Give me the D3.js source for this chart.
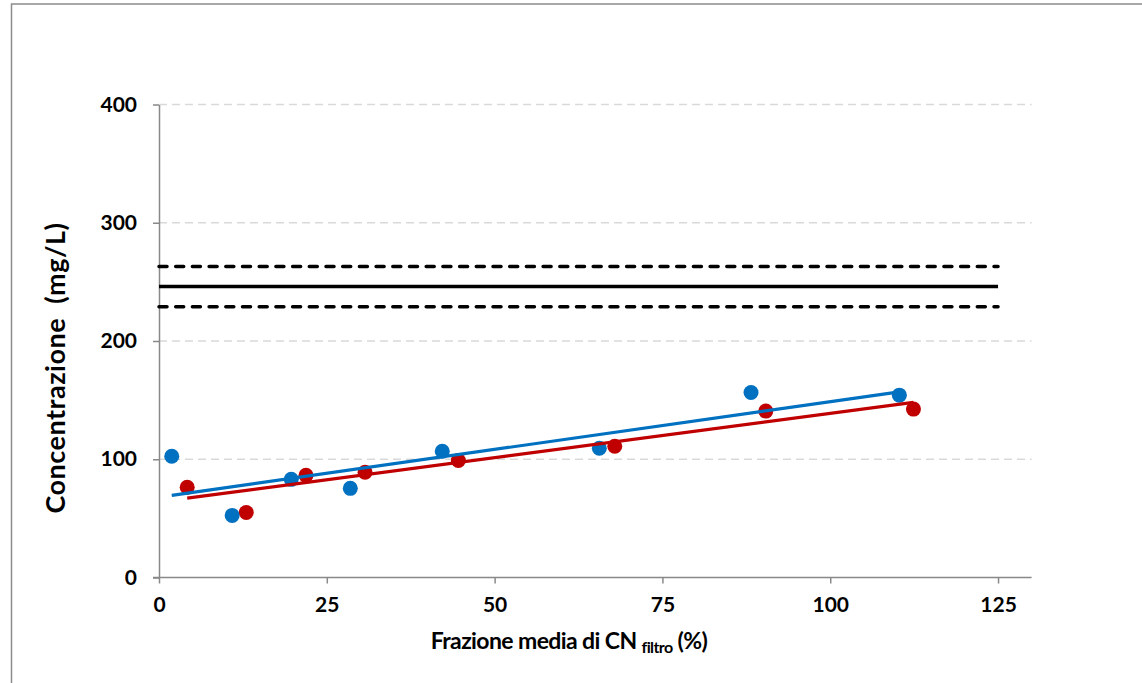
<!DOCTYPE html>
<html>
<head>
<meta charset="utf-8">
<script src="https://cdn.jsdelivr.net/npm/d3@7"></script>
<style>
  body { margin: 0; background: #fff; }
  svg { display: block; font-family: Lato, "Open Sans", sans-serif; }
</style>
</head>
<body>
<div id="chart"></div>
<script>
// Series
const blueX = [1.9, 10.9, 19.7, 28.5, 42.2, 65.6, 88.2, 110.3];
const blueY = [102.5, 52.5, 83, 75.4, 106.8, 109.3, 156.5, 154.2];
const redX = [4.2, 13, 21.9, 30.7, 44.6, 67.9, 90.4, 112.4];
const redY = [76.3, 55, 86.4, 89, 99, 111, 140.7, 142.4];

// reference level (solid) and its band (dashed)
const refRange = [0, 125];
const refLevel = 246;
const refBand = [229, 263];

const xTicks = [0, 25, 50, 75, 100, 125];
const yTicks = [0, 100, 200, 300, 400];

const W = 1142, H = 683;
const blue = "#0070C0", red = "#C00000", axisCol = "#898989";

const svg = d3.select("#chart").append("svg")
    .attr("width", W)
    .attr("height", H);

// outer frame (only left and top visible in the picture)
svg.append("rect")
    .attr("x", 11.5).attr("y", 4)
    .attr("width", W + 20).attr("height", H + 20)
    .attr("fill", "none")
    .attr("stroke", "#8c8c8c")
    .attr("stroke-width", 1.5);

const x = d3.scaleLinear().domain([0, 130]).range([159, 1031.6]);
const y = d3.scaleLinear().domain([0, 400]).range([577.5, 104.5]);

// gridlines
svg.append("g")
    .selectAll("line")
    .data(yTicks.filter(d => d > 0))
    .join("line")
    .attr("x1", x(0)).attr("x2", x(130))
    .attr("y1", d => y(d)).attr("y2", d => y(d))
    .attr("stroke", "#d9d9d9")
    .attr("stroke-width", 1.3)
    .attr("stroke-dasharray", "8,5");

// Y axis
const yAxis = svg.append("g")
    .attr("transform", `translate(${x(0)},0)`)
    .call(d3.axisLeft(y).tickValues(yTicks).tickSize(6).tickPadding(16).tickSizeOuter(0));
yAxis.select(".domain").attr("stroke", axisCol).attr("stroke-width", 1.5);
yAxis.selectAll(".tick line").attr("stroke", axisCol).attr("stroke-width", 1.5);
yAxis.selectAll(".tick text")
    .attr("font-family", "Lato, sans-serif")
    .attr("font-size", 21)
    .attr("font-weight", "bold")
    .attr("fill", "#000");

// X axis
const xAxis = svg.append("g")
    .attr("transform", `translate(0,${y(0)})`)
    .call(d3.axisBottom(x).tickValues(xTicks).tickSize(6).tickPadding(14).tickSizeOuter(0));
xAxis.select(".domain")
    .attr("d", `M${x(0) - 6},0H${x(130)}`)
    .attr("stroke", axisCol).attr("stroke-width", 1.5);
xAxis.selectAll(".tick line").attr("stroke", axisCol).attr("stroke-width", 1.5);
xAxis.selectAll(".tick text")
    .attr("font-family", "Lato, sans-serif")
    .attr("font-size", 21)
    .attr("font-weight", "bold")
    .attr("fill", "#000");

// reference lines
const refLines = [
    { v: refBand[1], dash: "8,8.7" },
    { v: refLevel, dash: null },
    { v: refBand[0], dash: "8,8.7" }
];
svg.append("g")
    .selectAll("line")
    .data(refLines)
    .join("line")
    .attr("x1", x(refRange[0])).attr("x2", x(refRange[1]))
    .attr("y1", d => y(d.v)).attr("y2", d => y(d.v))
    .attr("stroke", "#000")
    .attr("stroke-width", 3.5)
    .attr("stroke-linecap", d => d.dash ? "round" : "butt")
    .attr("stroke-dasharray", d => d.dash);

// points
function dots(xs, ys, color) {
    svg.append("g")
        .selectAll("circle")
        .data(xs.map((v, i) => [v, ys[i]]))
        .join("circle")
        .attr("cx", d => x(d[0]))
        .attr("cy", d => y(d[1]))
        .attr("r", 7.5)
        .attr("fill", color);
}
dots(redX, redY, red);
dots(blueX, blueY, blue);

// linear trendlines (least squares over each series)
function trend(xs, ys, color) {
    const mx = d3.mean(xs), my = d3.mean(ys);
    const slope = d3.sum(xs, (v, i) => (v - mx) * (ys[i] - my)) / d3.sum(xs, v => (v - mx) ** 2);
    const icpt = my - slope * mx;
    const ext = d3.extent(xs);
    svg.append("line")
        .attr("x1", x(ext[0])).attr("y1", y(icpt + slope * ext[0]))
        .attr("x2", x(ext[1])).attr("y2", y(icpt + slope * ext[1]))
        .attr("stroke", color)
        .attr("stroke-width", 3.2);
}
trend(redX, redY, red);
trend(blueX, blueY, blue);

// axis titles
svg.append("text")
    .attr("transform", `translate(65,368)rotate(-90)`)
    .attr("text-anchor", "middle")
    .attr("font-size", 27)
    .attr("letter-spacing", 0.5)
    .attr("font-weight", "bold")
    .attr("fill", "#000")
    .text("Concentrazione\u00a0\u00a0(mg/L)");

const xt = svg.append("text")
    .attr("x", 569)
    .attr("y", 649)
    .attr("text-anchor", "middle")
    .attr("font-size", 23)
    .attr("letter-spacing", -0.6)
    .attr("font-weight", "bold")
    .attr("fill", "#000");
xt.append("tspan").text("Frazione media di CN ");
xt.append("tspan").attr("font-size", 16).attr("dy", 4).text("filtro");
xt.append("tspan").attr("dy", -4).text(" (%)");
</script>
</body>
</html>
